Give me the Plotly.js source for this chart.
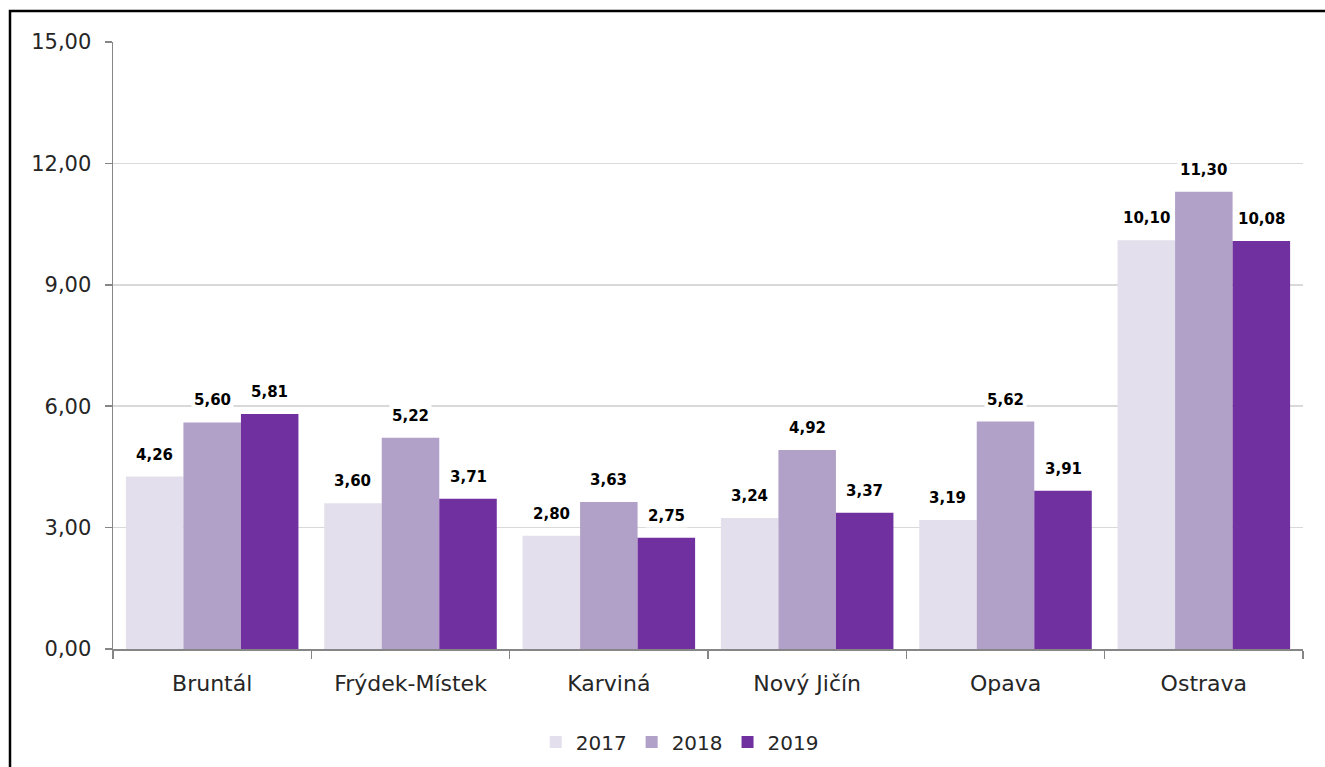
<!DOCTYPE html>
<html><head><meta charset="utf-8">
<script src="https://cdn.plot.ly/plotly-3.0.1.min.js"></script>
<style>html,body{margin:0;padding:0;background:#fff}#chart{width:1325px;height:767px}</style>
</head><body><div id="chart"></div>
<script>
const categories = ["Bruntál", "Frýdek-Místek", "Karviná", "Nový Jičín", "Opava", "Ostrava"];
const years = ["2017", "2018", "2019"];
const v2017 = [4.26, 3.60, 2.80, 3.24, 3.19, 10.10];
const v2018 = [5.60, 5.22, 3.63, 4.92, 5.62, 11.30];
const v2019 = [5.81, 3.71, 2.75, 3.37, 3.91, 10.08];
const colors = ["#E4DFEC", "#B1A0C7", "#7030A0"];
const series = [v2017, v2018, v2019];
const FONT = "'DejaVu Sans', sans-serif";

const traces = series.map((vals, k) => ({
  type: "bar", name: years[k], x: categories, y: vals,
  marker: {color: colors[k]}, hoverinfo: "skip"
}));

const fmt = v => v.toFixed(2).replace(".", ",");
const annotations = [];
series.forEach((vals, k) => {
  vals.forEach((v, i) => {
    annotations.push({
      x: i + (k - 1) * 0.29, y: v, xref: "x", yref: "y",
      text: "<b>" + fmt(v) + "</b>", showarrow: false,
      yanchor: "middle", yshift: 22, bgcolor: "#ffffff", borderpad: 2,
      font: {family: FONT, size: 15, color: "#000"}
    });
  });
});

const layout = {
  width: 1325, height: 767,
  margin: {l: 113, r: 22, t: 42, b: 118, autoexpand: false},
  paper_bgcolor: "#fff", plot_bgcolor: "#fff",
  separators: ", ",
  barmode: "group", bargap: 0.13, bargroupgap: 0,
  font: {family: FONT, size: 21, color: "#262626"},
  showlegend: true,
  legend: {orientation: "h", x: 0.513, xref: "container", xanchor: "center",
           y: 25/767, yref: "container", yanchor: "middle",
           font: {family: FONT, size: 20, color: "#262626"}, itemwidth: 30, traceorder: "normal"},
  xaxis: {type: "category", showgrid: false, showline: true, linecolor: "#868686", linewidth: 1.5,
          ticks: "outside", tickson: "boundaries", ticklen: 8, tickcolor: "#868686", tickwidth: 1.5,
          tickfont: {family: FONT, size: 22, color: "#262626"},
          ticklabelstandoff: 14, zeroline: false, automargin: false},
  yaxis: {range: [0, 15], dtick: 3, tick0: 0, tickformat: ".2f", showgrid: true, gridcolor: "#D9D9D9", gridwidth: 1.5,
          showline: true, linecolor: "#868686", linewidth: 1.5, ticks: "outside", ticklen: 7,
          tickfont: {family: FONT, size: 21, color: "#262626"},
          tickcolor: "#868686", tickwidth: 1.5, zeroline: false, ticklabelstandoff: 9, automargin: false},
  annotations: annotations,
  shapes: [{type: "rect", xref: "paper", yref: "paper",
            x0: -103/1190, x1: 1.1, y0: -0.3, y1: 1 + 31/607,
            line: {color: "#000", width: 2.5}, fillcolor: "rgba(0,0,0,0)", layer: "above"}]
};
Plotly.newPlot("chart", traces, layout, {staticPlot: true, displayModeBar: false});
</script></body></html>
